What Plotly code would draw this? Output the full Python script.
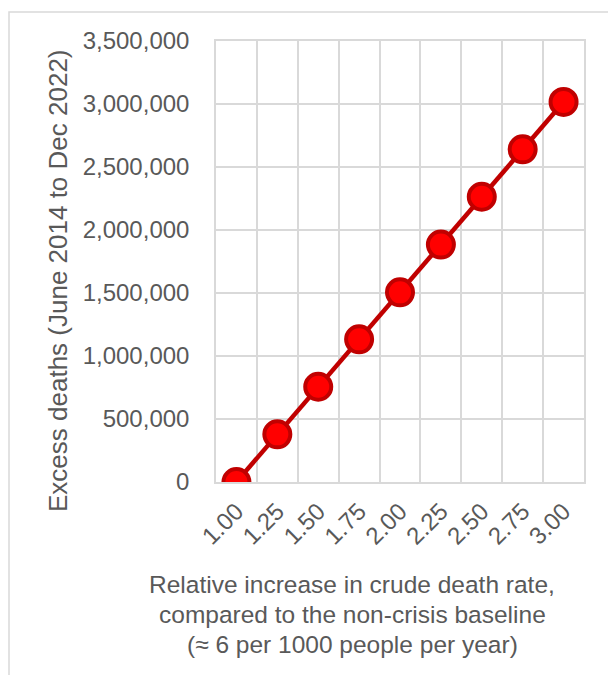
import plotly.graph_objects as go

# Relative increase in crude death rate (category labels)
rate_labels = ["1.00", "1.25", "1.50", "1.75", "2.00", "2.25", "2.50", "2.75", "3.00"]
# Estimated excess deaths, June 2014 to Dec 2022
excess_deaths = [0, 378000, 756000, 1132000, 1505000, 1884000, 2264000, 2640000, 3016000]

y_ticks = [0, 500000, 1000000, 1500000, 2000000, 2500000, 3000000, 3500000]

GRID = "#d9d9d9"
TEXT = "#595959"
FONT = "Liberation Sans, Arial, sans-serif"
FS = 24
TITLE_FS = 24.5

# plot area in pixels: x 216..584, y 41..482
PL, PR, PT, PB = 216, 584, 41, 482
PW, PH = PR - PL, PB - PT


def px(x):
    return (x - PL) / PW


def py(y):
    return (PB - y) / PH


fig = go.Figure()
fig.add_trace(go.Scatter(
    x=rate_labels,
    y=excess_deaths,
    mode="lines+markers",
    line=dict(color="#c00000", width=4.5),
    marker=dict(size=26, color="#ff0000", line=dict(color="#c00000", width=4)),
    showlegend=False,
    hoverinfo="x+y",
))

fig.update_layout(
    width=608,
    height=675,
    margin=dict(l=PL, r=608 - PR, t=PT, b=675 - PB),
    paper_bgcolor="white",
    plot_bgcolor="white",
    font=dict(family=FONT, size=FS, color=TEXT),
    xaxis=dict(
        type="category",
        tickson="boundaries",
        range=[-0.5, 8.5],
        showgrid=True,
        gridcolor=GRID,
        gridwidth=1.5,
        showline=True,
        linecolor=GRID,
        linewidth=1.5,
        mirror=True,
        ticks="",
        tickangle=-45,
        tickfont=dict(size=FS, color=TEXT),
        ticklabelstandoff=4,
    ),
    yaxis=dict(
        range=[0, 3500000],
        tickvals=y_ticks,
        tickformat=",",
        showgrid=True,
        gridcolor=GRID,
        gridwidth=1.5,
        zeroline=False,
        showline=True,
        linecolor=GRID,
        linewidth=1.5,
        mirror=True,
        ticks="",
        tickfont=dict(size=FS, color=TEXT),
        ticklabelstandoff=20,
    ),
    shapes=[
        # outer chart frame
        dict(type="rect", xref="paper", yref="paper",
             x0=px(9), x1=px(640), y0=py(700), y1=py(12),
             line=dict(color=GRID, width=1.5), layer="below"),
    ],
    annotations=[
        dict(text="Excess deaths (June 2014 to Dec 2022)", xref="paper", yref="paper",
             x=px(58), y=py(281), textangle=-90, showarrow=False,
             xanchor="center", yanchor="middle",
             font=dict(size=26, color=TEXT, family=FONT)),
        dict(text="Relative increase in crude death rate,", xref="paper", yref="paper",
             x=px(352), y=py(584), showarrow=False,
             xanchor="center", yanchor="middle",
             font=dict(size=TITLE_FS, color=TEXT, family=FONT)),
        dict(text="compared to the non-crisis baseline", xref="paper", yref="paper",
             x=px(352), y=py(614), showarrow=False,
             xanchor="center", yanchor="middle",
             font=dict(size=TITLE_FS, color=TEXT, family=FONT)),
        dict(text="(≈ 6 per 1000 people per year)", xref="paper", yref="paper",
             x=px(352), y=py(644), showarrow=False,
             xanchor="center", yanchor="middle",
             font=dict(size=TITLE_FS, color=TEXT, family=FONT)),
    ],
)

fig.write_html("out.html")
